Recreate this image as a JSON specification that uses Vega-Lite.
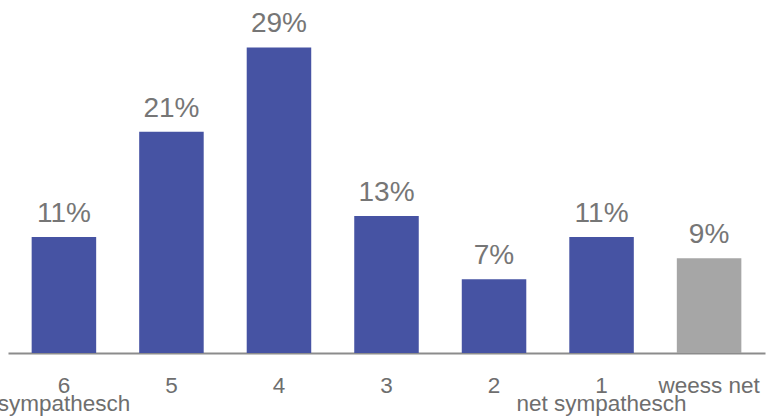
{
  "$schema": "https://vega.github.io/schema/vega-lite/v6.json",
  "autosize": "none",
  "width": 757,
  "height": 353,
  "padding": {"left": 8, "top": 0, "right": 4, "bottom": 63},
  "background": "white",
  "data": {"values": [
    {"cat": "6\nsympathesch", "value": 0.11, "grp": "a"},
    {"cat": "5", "value": 0.21, "grp": "a"},
    {"cat": "4", "value": 0.29, "grp": "a"},
    {"cat": "3", "value": 0.13, "grp": "a"},
    {"cat": "2", "value": 0.07, "grp": "a"},
    {"cat": "1\nnet sympathesch", "value": 0.11, "grp": "a"},
    {"cat": "weess net", "value": 0.09, "grp": "b"}
  ]},
  "encoding": {
    "x": {"field": "cat", "type": "nominal", "sort": null,
      "scale": {"paddingInner": 0.4, "paddingOuter": 0.22},
      "axis": {"title": null, "labelAngle": 0, "ticks": false, "domainColor": "#8c8c8c", "domainWidth": 2,
        "labelExpr": "split(datum.label, '\\n')", "labelFont": "Liberation Sans", "labelFontSize": 22.5,
        "labelColor": "#6e6e6e", "labelPadding": 39, "labelLineHeight": 18, "labelBaseline": "alphabetic"}},
    "y": {"field": "value", "type": "quantitative", "scale": {"domain": [0, 0.335]}, "axis": null}
  },
  "layer": [
    {"mark": {"type": "bar"},
      "encoding": {"color": {"field": "grp", "type": "nominal", "scale": {"domain": ["a", "b"], "range": ["#4653A3", "#A6A6A6"]}, "legend": null}}},
    {"mark": {"type": "text", "baseline": "alphabetic", "dy": -15, "font": "Liberation Sans", "fontSize": 28, "color": "#767676"},
      "encoding": {"text": {"field": "value", "type": "quantitative", "format": ".0%"}}}
  ],
  "config": {"view": {"stroke": null}}
}
